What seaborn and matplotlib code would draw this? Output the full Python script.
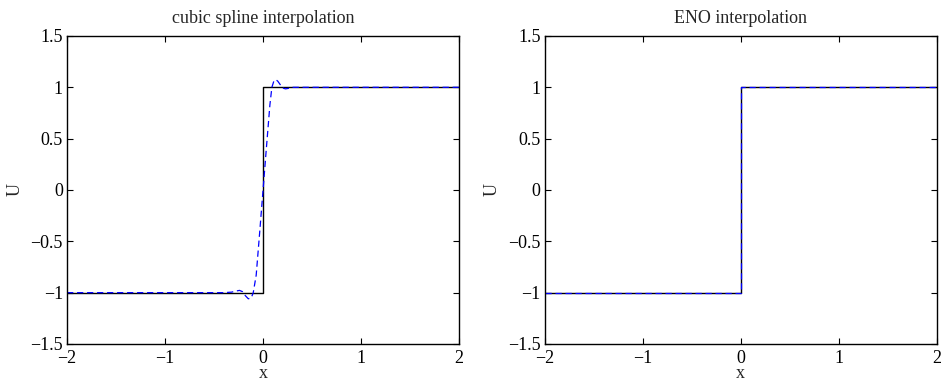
import matplotlib
matplotlib.use("Agg")
import matplotlib.pyplot as plt
import seaborn as sns
import numpy as np

# exact step solution
exact_x = [-2.0, 0.0, 0.0, 2.0]
exact_u = [-1.0, -1.0, 1.0, 1.0]

# cubic spline interpolant
spline_x = [-2.0, -0.40, -0.32, -0.28, -0.24, -0.21, -0.18, -0.15, -0.12, -0.10,
            -0.07, -0.035, 0.0, 0.035, 0.07, 0.09, 0.11, 0.13, 0.15, 0.18,
            0.21, 0.23, 0.26, 0.30, 0.36, 2.0]
spline_u = [-1.0, -1.0, -0.995, -0.985, -0.978, -0.99, -1.03, -1.06, -1.05, -1.0,
            -0.83, -0.42, 0.0, 0.42, 0.83, 1.0, 1.06, 1.075, 1.06, 1.02,
            0.99, 0.985, 0.99, 1.0, 1.0, 1.0]

# ENO interpolant
eno_x = [-2.0, 0.0, 0.0, 2.0]
eno_u = [-1.0, -1.0, 1.0, 1.0]

titles = ["cubic spline interpolation", "ENO interpolation"]
xticks = [-2, -1, 0, 1, 2]
yticks = [-1.5, -1, -0.5, 0, 0.5, 1, 1.5]
xtick_labels = ["\u22122", "\u22121", "0", "1", "2"]
ytick_labels = ["\u22121.5", "\u22121", "\u22120.5", "0", "0.5", "1", "1.5"]

sns.set_theme(style="ticks")
plt.rcParams["font.family"] = ["Liberation Serif", "DejaVu Serif"]
plt.rcParams["xtick.direction"] = "in"
plt.rcParams["ytick.direction"] = "in"
plt.rcParams["xtick.top"] = True
plt.rcParams["ytick.right"] = True

fig = plt.figure(figsize=(9.43, 3.82), dpi=100)
ax1 = fig.add_axes([0.0711, 0.0995, 0.4157, 0.8063])
ax2 = fig.add_axes([0.5776, 0.0995, 0.4157, 0.8063])

series = [(spline_x, spline_u), (eno_x, eno_u)]
for ax, title, (sx, su) in zip([ax1, ax2], titles, series):
    sns.lineplot(x=exact_x, y=exact_u, ax=ax, color="black", linewidth=1.0,
                 estimator=None, sort=False)
    sns.lineplot(x=sx, y=su, ax=ax, color="blue", linewidth=0.9,
                 linestyle=(0, (5, 3)), estimator=None, sort=False)
    ax.set_xlim(-2, 2)
    ax.set_ylim(-1.5, 1.5)
    ax.set_xticks(xticks)
    ax.set_xticklabels(xtick_labels)
    ax.set_yticks(yticks)
    ax.set_yticklabels(ytick_labels)
    ax.tick_params(axis="both", labelsize=13, length=4, width=0.8,
                   colors="black")
    ax.tick_params(axis="x", pad=4)
    ax.tick_params(axis="y", pad=3)
    ax.set_title(title, fontsize=13, pad=9)
    ax.set_xlabel("x", fontsize=13, labelpad=-1)
    ax.set_ylabel("U", fontsize=13, labelpad=5)
    for sp in ax.spines.values():
        sp.set_visible(True)
        sp.set_color("black")
        sp.set_linewidth(1.0)

fig.savefig("out.png", dpi=100)
